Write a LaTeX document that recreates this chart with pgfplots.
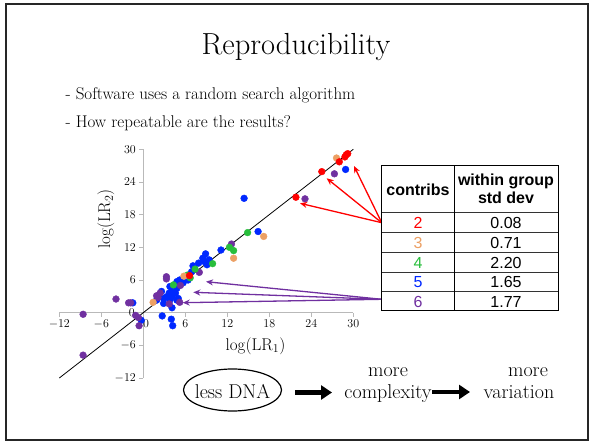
\documentclass[border=0pt]{standalone}
\usepackage{pgfplots}
\pgfplotsset{compat=1.18}
\usepackage{fontspec}
\newfontfamily\arial{Liberation Sans}
\usetikzlibrary{arrows.meta}
\definecolor{cRed}{RGB}{255,0,0}
\definecolor{cOrange}{RGB}{236,160,100}
\definecolor{cGreen}{RGB}{40,190,60}
\definecolor{cBlue}{RGB}{0,40,255}
\definecolor{cPurple}{RGB}{112,48,160}
\begin{document}
\begin{tikzpicture}[x=1pt,y=1pt]
\useasboundingbox (0,0) rectangle (593,444);
\draw[line width=2pt, black!85] (6,4) rectangle (588,440);
\node[anchor=base] at (296,389) {\fontsize{30.5}{32}\selectfont Reproducibility};
\node[anchor=base west] at (62,344) {\fontsize{17}{18}\selectfont - Software uses a random search algorithm};
\node[anchor=base west] at (62,316.5) {\fontsize{17}{18}\selectfont - How repeatable are the results?};

\begin{axis}[at={(59.3pt,66pt)}, anchor=south west, scale only axis,
  width=294pt, height=228.7pt,
  xmin=-12, xmax=30, ymin=-12, ymax=30,
  axis lines=middle, axis line style={-, gray!55, line width=0.8pt},
  xtick={-12,-6,...,30}, ytick={-12,-6,...,30},
  tick style={gray!55, line width=0.8pt}, major tick length=4pt, tick align=outside,
  tick label style={font=\fontsize{12}{12}\selectfont},
  clip=false,
  every axis plot/.append style={only marks, mark=*, mark size=3.4pt},
]
\addplot[black, line width=0.8pt, no marks, sharp plot] coordinates {(-12,-12) (30,30)};
\addplot[color=cBlue] coordinates {
(14.4,21.0) (28.9,26.3) (16.4,14.9) (11.1,11.5) (8.9,10.8) (8.5,10.0) (9.4,9.7)
(8.7,9.4) (9.1,8.8) (7.1,8.6) (7.3,8.2) (6.9,7.5) (6.4,6.0) (5.2,6.0) (4.8,5.7)
(5.7,5.5) (5.1,5.3) (4.5,5.0) (4.3,4.8) (4.8,4.5) (3.8,4.8) (4.1,3.9) (3.7,3.6)
(4.6,3.6) (2.6,3.9) (3.3,2.9) (4.1,2.9) (5.0,2.6) (2.9,2.6) (3.8,2.3) (4.8,2.3)
(2.9,1.7) (4.1,0.9) (2.7,-0.6) (4.0,-1.2) (4.2,-2.4) (-1.5,1.8) (-0.3,-1.4)
(7.9,9.1) (6.2,6.3) (1.9,2.3)
};
\addplot[color=cPurple] coordinates {
(27.3,25.5) (23.1,20.9) (12.6,12.6) (8.0,7.4) (3.3,6.6) (3.3,6.2) (5.3,5.0)
(5.2,1.9) (2.4,3.6) (1.9,3.1) (2.1,2.8) (3.7,1.6) (-3.9,2.5) (-2.1,1.8)
(-1.8,1.8) (-1.1,-0.5) (-0.7,-0.9) (-0.6,-2.4) (-8.6,-0.3) (-8.6,-7.8)
};
\addplot[color=cGreen] coordinates {
(14.9,14.7) (12.3,12.0) (12.9,11.4) (9.9,9.0) (7.4,8.0) (6.7,6.4) (6.3,6.9) (4.3,5.1)
};
\addplot[color=cOrange] coordinates {
(27.6,28.4) (17.2,14.0) (12.9,10.0) (5.8,6.7) (1.4,1.9)
};
\addplot[color=cRed] coordinates {
(29.0,29.0) (29.2,29.2) (28.8,28.6) (28.0,27.7) (25.5,25.9) (21.8,21.2) (6.6,6.8)
};
\node[anchor=north, font=\fontsize{12}{12}\selectfont] at (axis cs:0.4,0) [yshift=-4pt] {$0$};
\node[anchor=east, font=\fontsize{12}{12}\selectfont] at (axis cs:0,0) [xshift=-5pt] {$0$};
\end{axis}

\node at (255.5,98) {\fontsize{17}{17}\selectfont log(LR$_1$)};
\node[rotate=90] at (106,225) {\fontsize{17}{17}\selectfont log(LR$_2$)};

% arrows
\draw[cRed, line width=1.3pt, -{Stealth[length=7pt,width=6pt]}] (381.7,221.3) -- (354,278);
\draw[cRed, line width=1.3pt, -{Stealth[length=7pt,width=6pt]}] (381.7,221.3) -- (326.7,265.7);
\draw[cRed, line width=1.3pt, -{Stealth[length=7pt,width=6pt]}] (381.7,221.3) -- (300,240.7);
\draw[cPurple, line width=1.3pt, -{Stealth[length=7pt,width=6pt]}] (381.7,144.7) -- (206,162.3);
\draw[cPurple, line width=1.3pt, -{Stealth[length=7pt,width=6pt]}] (381.7,144.7) -- (193.3,151.7);
\draw[cPurple, line width=1.3pt, -{Stealth[length=7pt,width=6pt]}] (381.7,144.7) -- (182.7,141.3);

% table
\fill[white] (381.7,278.3) rectangle (558,133);
\draw[black, line width=1pt] (381.7,278.3) rectangle (558,133);
\foreach \yy in {231.7,211.7,191.7,171.7,152.3} {\draw[black!80, line width=1pt] (381.7,\yy) -- (558,\yy);}
\draw[black, line width=1pt] (454.3,278.3) -- (454.3,133);
\node[anchor=base] at (418,248) {\arial\bfseries\fontsize{16}{16}\selectfont contribs};
\node[anchor=base] at (506,258) {\arial\bfseries\fontsize{16}{16}\selectfont within group};
\node[anchor=base] at (506,240.7) {\arial\bfseries\fontsize{16}{16}\selectfont std dev};
\node[anchor=base, text=cRed] at (418,215.9) {\arial\fontsize{16}{16}\selectfont 2};
\node[anchor=base, text=cOrange] at (418,195.9) {\arial\fontsize{16}{16}\selectfont 3};
\node[anchor=base, text=cGreen] at (418,175.9) {\arial\fontsize{16}{16}\selectfont 4};
\node[anchor=base, text=cBlue] at (418,156.2) {\arial\fontsize{16}{16}\selectfont 5};
\node[anchor=base, text=cPurple] at (418,136.8) {\arial\fontsize{16}{16}\selectfont 6};
\node[anchor=base] at (506,215.9) {\arial\fontsize{16}{16}\selectfont 0.08};
\node[anchor=base] at (506,195.9) {\arial\fontsize{16}{16}\selectfont 0.71};
\node[anchor=base] at (506,175.9) {\arial\fontsize{16}{16}\selectfont 2.20};
\node[anchor=base] at (506,156.2) {\arial\fontsize{16}{16}\selectfont 1.65};
\node[anchor=base] at (506,136.8) {\arial\fontsize{16}{16}\selectfont 1.77};

% bottom flow
\draw[line width=1.2pt] (232.5,54) ellipse [x radius=49, y radius=21];
\node[anchor=base] at (232.5,45.7) {\fontsize{20}{20}\selectfont less DNA};
\draw[line width=4.5pt, -{Triangle[length=11pt,width=14pt]}] (295,51.5) -- (332,51.5);
\node[anchor=base] at (388,68) {\fontsize{20}{20}\selectfont more};
\node[anchor=base] at (388,45.7) {\fontsize{20}{20}\selectfont complexity};
\draw[line width=4.5pt, -{Triangle[length=11pt,width=14pt]}] (432,52) -- (470,52);
\node[anchor=base] at (528,68) {\fontsize{20}{20}\selectfont more};
\node[anchor=base] at (519,45.7) {\fontsize{20}{20}\selectfont variation};
\end{tikzpicture}
\end{document}
